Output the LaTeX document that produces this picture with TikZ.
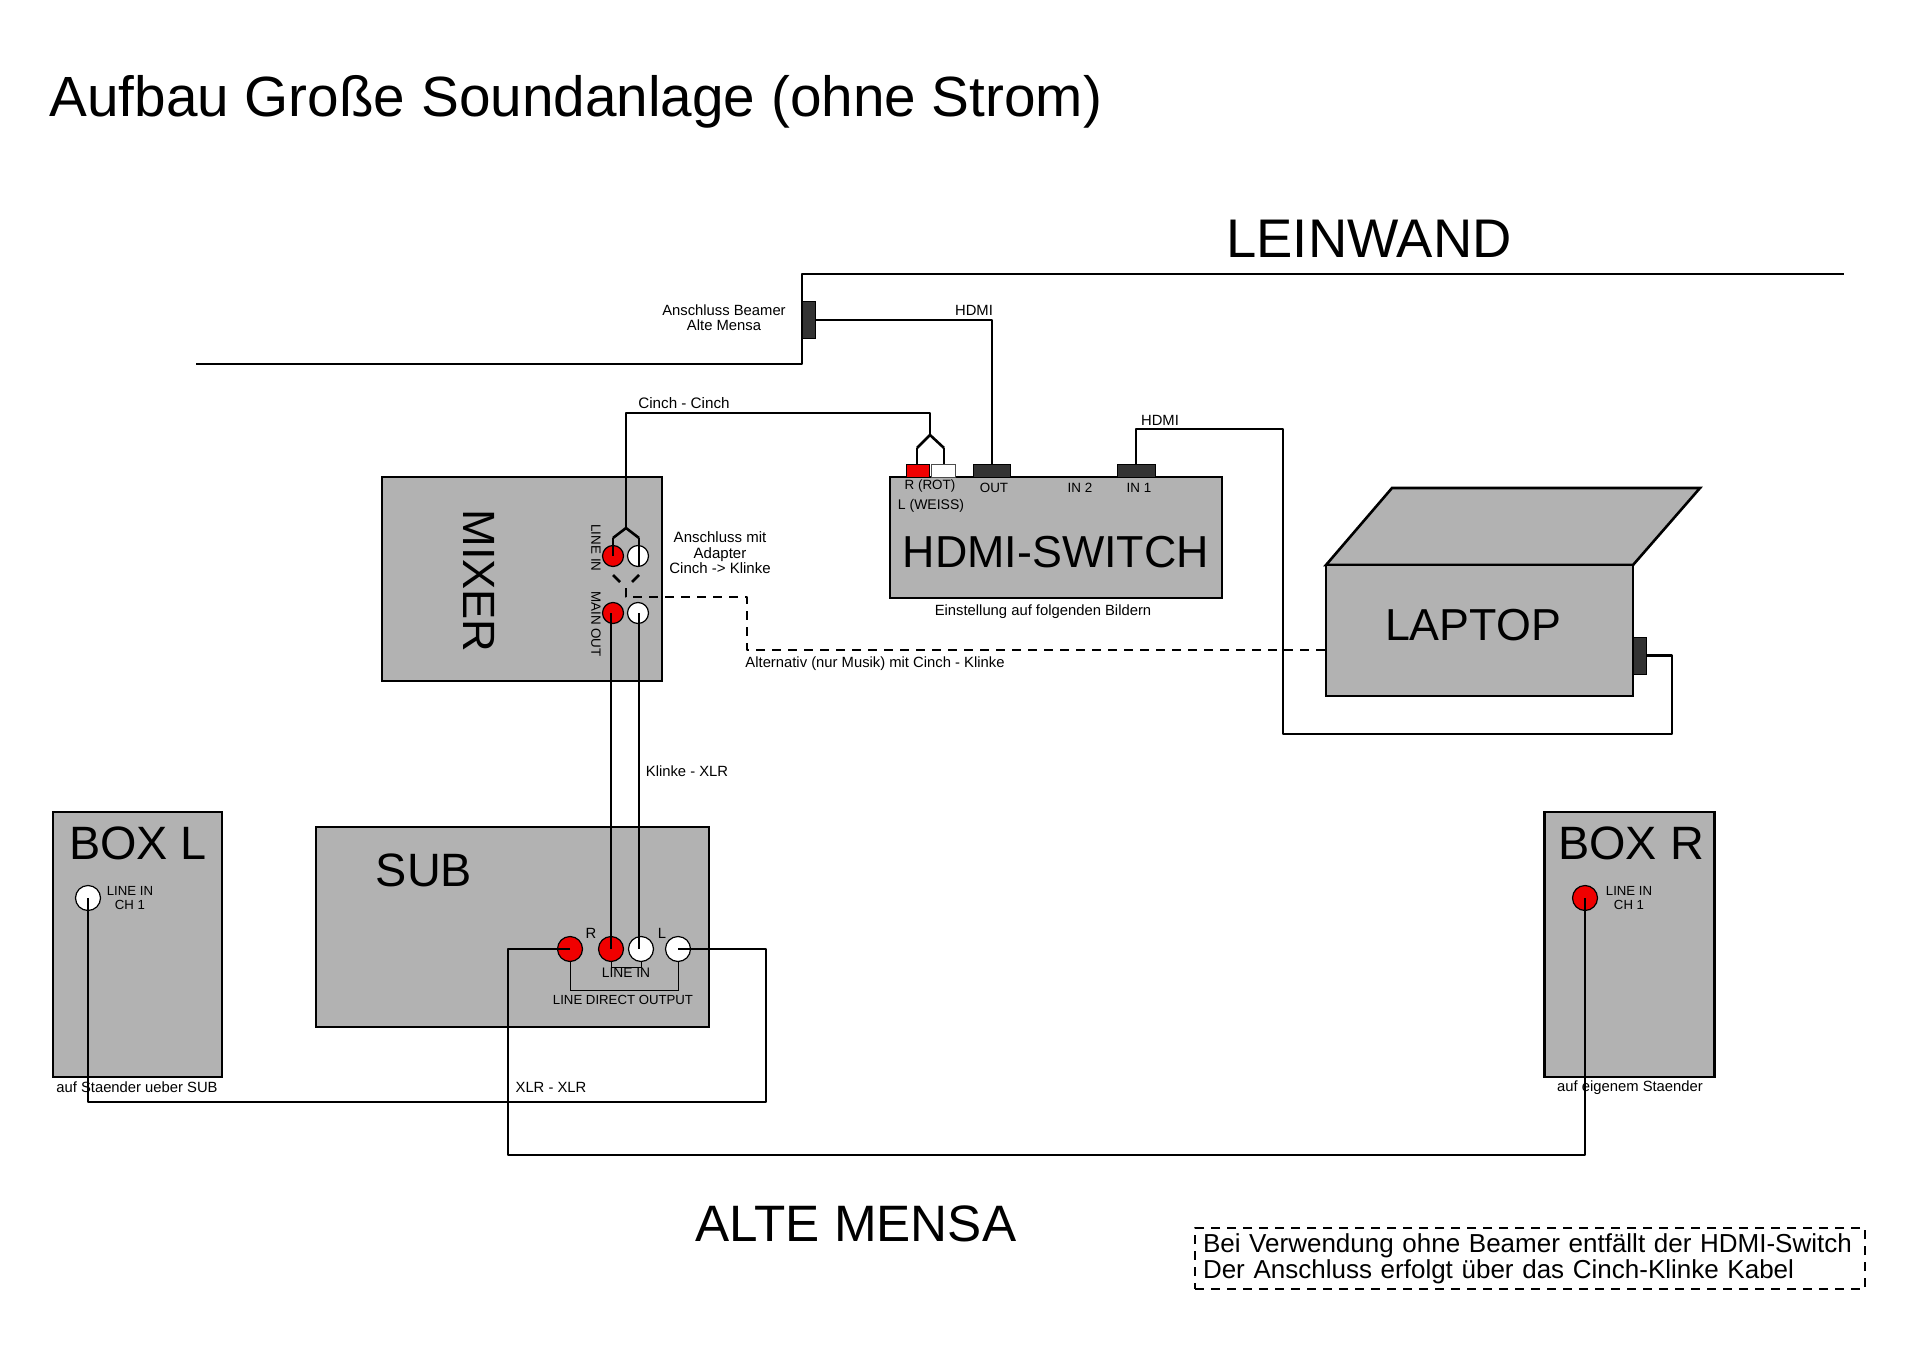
\documentclass[tikz,border=0pt]{standalone}
\usepackage{fontspec}
\setmainfont{Liberation Sans}
\usepackage{amsmath}
\definecolor{unitgrey}{HTML}{B2B2B2}
\definecolor{plugdark}{HTML}{333333}
\definecolor{jackred}{HTML}{F00000}

\begin{document}
\begin{tikzpicture}[x=.5pt,y=-.5pt,
    unit/.style={draw,fill=unitgrey,line width=1.3pt,inner sep=0pt},
    plug/.style={draw,fill=plugdark,line width=.5pt,inner sep=0pt},
    jack/.style={circle,draw,fill=white,line width=.6pt,inner sep=0pt,minimum size=10.5pt},
    redjack/.style={jack,fill=jackred},
    bigjack/.style={minimum size=12.5pt},
    wire/.style={line width=1.3pt,line join=round},
    dashwire/.style={wire,dash pattern=on 4.5pt off 3.5pt},
    tiny/.style={inner sep=0pt,font=\fontsize{7.4}{7.6}\selectfont,align=center},
    mini/.style={tiny,font=\fontsize{6.7}{7}\selectfont},
    big/.style={inner sep=0pt,font=\fontsize{22.4}{24}\selectfont},
    boxname/.style={big,font=\fontsize{23.4}{25}\selectfont}]
  \useasboundingbox (0,0) rectangle (1920,1358);

  \node[inner sep=0pt,anchor=base west,font=\fontsize{28.35}{30}\selectfont] (title) at (49,117) {Aufbau Große Soundanlage (ohne Strom)};
  \node[inner sep=0pt,font=\fontsize{27.2}{29}\selectfont] (leinwand) at (1369,239) {LEINWAND};
  \node[inner sep=0pt,font=\fontsize{25.6}{27}\selectfont] (mensa) at (856,1224) {ALTE MENSA};

  % wall
  \coordinate (wall1) at (196,364);
  \coordinate (wall2) at (802,364);
  \coordinate (wall3) at (802,274);
  \coordinate (wall4) at (1844,274);
  \draw[wire] (wall1) -- (wall2) -- (wall3) -- (wall4);

  % units
  \draw[unit] (1326,565) -- (1392,488) -- (1700,488) -- (1633,565) -- cycle;
  \node[unit,minimum width=140pt,minimum height=102pt]   (mixer)  at (522,579) {};
  \node[unit,minimum width=166pt,minimum height=60.5pt]  (switch) at (1056,537.5) {};
  \node[unit,minimum width=196.5pt,minimum height=100pt] (sub)    at (512.5,927) {};
  \node[unit,minimum width=84.5pt,minimum height=132.5pt] (boxl)  at (137.5,944.5) {};
  \node[unit,minimum width=85pt,minimum height=132.5pt]  (boxr)   at (1629.5,944.5) {};
  \node[unit,minimum width=153.5pt,minimum height=65.5pt] (laptop) at (1479.5,630.5) {};

  % plugs
  \node[plug,minimum width=6.5pt,minimum height=18.5pt]  (beamer) at (808.5,320) {};
  \node[plug,minimum width=18.5pt,minimum height=6.5pt]  (out)    at (992,470.5) {};
  \node[plug,minimum width=19pt,minimum height=6.5pt]    (in1)    at (1136,470.5) {};
  \node[plug,minimum width=6.5pt,minimum height=18.5pt]  (lapout) at (1640,655.5) {};
  \node[draw,fill=jackred,line width=.4pt,inner sep=0pt,minimum width=11.5pt,minimum height=6.5pt] (rcared) at (917.5,470.5) {};
  \node[draw=black!70,fill=white,line width=.4pt,inner sep=0pt,minimum width=12pt,minimum height=6.5pt] (rcawhite) at (943,470.5) {};

  % jacks
  \node[redjack] (inr)   at (613,556) {};
  \node[jack]    (inl)   at (638,556) {};
  \node[redjack] (mainr) at (613,613) {};
  \node[jack]    (mainl) at (638,613) {};
  \node[redjack,bigjack] (dirr)  at (570,949) {};
  \node[redjack,bigjack] (subr)  at (611,949) {};
  \node[jack,bigjack]    (subl)  at (641,949) {};
  \node[jack,bigjack]    (dirl)  at (678,949) {};
  \node[jack,bigjack]    (jackl) at (88,898) {};
  \node[redjack,bigjack] (jackr) at (1585,898) {};

  % brackets on the sub
  \draw[line width=.5pt] (subr.south) -- ++(0,5) -| (subl.south);
  \draw[line width=.5pt] (dirr.south) -- ++(0,28) -| (dirl.south);

  % cables
  \coordinate (cinch1) at (626,413);
  \coordinate (cinch2) at (930,413);
  \coordinate (forka)  at (930,435);
  \coordinate (forkar) at (917,448);
  \coordinate (forkal) at (944,448);
  \coordinate (forkb)  at (626,528);
  \coordinate (forkbr) at (613,538);
  \coordinate (forkbl) at (639,538);
  \draw[wire] (beamer.east) -| (out.north);
  \draw[wire] (forkb) -- (cinch1) -- (cinch2) -- (forka);
  \draw[wire] (forka) edge (forkar) edge (forkal)
              (forkar) edge (forkar |- rcared.north)
              (forkal) edge (forkal |- rcawhite.north)
              (forkb) edge (forkbr) edge (forkbl)
              (forkbr) edge (inr.center)
              (forkbl) edge (forkbl |- inl.south);
  \draw[wire] (subr |- mainr) -- (subr.center);
  \draw[wire] (forkbl |- mainl) -- (forkbl |- subl);

  \coordinate (hdmi1) at (1283,429);
  \coordinate (hdmi2) at (1283,734);
  \coordinate (hdmi3) at (1672,734);
  \coordinate (hdmi4) at (1672,655.5);
  \draw[wire] (in1.north) |- (hdmi1) -- (hdmi2) -- (hdmi3) -- (hdmi4) -- (lapout.east);

  \coordinate (dash1) at (613,575);
  \coordinate (dash2) at (620,582);
  \coordinate (dash3) at (639,575);
  \coordinate (dash4) at (632,582);
  \coordinate (dash5) at (626,588);
  \coordinate (dash6) at (626,597);
  \coordinate (dash7) at (747,597);
  \coordinate (dash8) at (747,650);
  \draw[wire] (dash1) -- (dash2);
  \draw[wire] (dash3) -- (dash4);
  \draw[dashwire] (dash5) -- (dash6) -- (dash7) -- (dash8) -- (laptop.west |- dash8);

  \coordinate (xlr1) at (766,949);
  \coordinate (xlr2) at (766,1102);
  \coordinate (xlr3) at (88,1102);
  \draw[wire] (dirl.center) -- (xlr1) -- (xlr2) -- (xlr3) -- (jackl.center);
  \coordinate (xlr4) at (508,949);
  \coordinate (xlr5) at (508,1155);
  \coordinate (xlr6) at (1585,1155);
  \draw[wire] (dirr.center) -- (xlr4) -- (xlr5) -- (xlr6) -- (jackr.center);

  % big labels
  \node[big,font=\fontsize{22.6}{24}\selectfont] (mixerlabel) at (479,581) [rotate=-90] {MIXER};
  \node[big] (switchlabel) at (1056,552) {HDMI-SWITCH};
  \node[boxname] (sublabel)  at (424,870) {SUB};
  \node[boxname] (boxllabel) at (138,843) {BOX L};
  \node[boxname] (boxrlabel) at (1631,843) {BOX R};
  \node[big] (laptoplabel) at (1473,625) {LAPTOP};

  % small labels
  \node[tiny] (beamerlabel) at (724,318) {Anschluss Beamer\\Alte Mensa};
  \node[tiny] (hdmitop)     at (974,310) {HDMI};
  \node[tiny] (hdmiin)      at (1160,420) {HDMI};
  \node[tiny,font=\fontsize{7.6}{8}\selectfont] (cinchlabel) at (684,403) {Cinch - Cinch};
  \node[mini] (rot)         at (930,486) {R (ROT)};
  \node[tiny,font=\fontsize{7}{7}\selectfont] (weiss) at (931,506) {L (WEISS)};
  \node[mini] (outlabel)    at (994,488) {OUT};
  \node[mini] (in2label)    at (1080,488) {IN 2};
  \node[mini] (in1label)    at (1139,488) {IN 1};
  \node[tiny] (einstellung) at (1043,612) {Einstellung auf folgenden Bildern};
  \node[tiny,font=\fontsize{7.5}{7.8}\selectfont] (adapter) at (720,553) {Anschluss mit\\Adapter\\Cinch -> Klinke};
  \node[tiny] (alternativ)  at (875,664) {Alternativ (nur Musik) mit Cinch - Klinke};
  \node[tiny] (klinke)      at (687,771) {Klinke - XLR};
  \node[tiny] (xlrlabel)    at (551,1087) {XLR - XLR};
  \node[mini,rotate=-90] (linein)  at (596,548) {LINE IN};
  \node[mini,rotate=-90] (mainout) at (596,624) {MAIN OUT};
  \node[tiny] (rlabel)      at (591,933) {R};
  \node[tiny] (llabel)      at (662,933) {L};
  \node[tiny,font=\fontsize{6.9}{7}\selectfont] (subin) at (626,973) {LINE IN};
  \node[tiny,font=\fontsize{6.6}{7}\selectfont] (direct) at (623,1000) {LINE DIRECT OUTPUT};
  \node[tiny,font=\fontsize{6.6}{7}\selectfont] (boxlin) at (130,898) {LINE IN\\CH 1};
  \node[tiny,font=\fontsize{6.6}{7}\selectfont] (boxrin) at (1629,898) {LINE IN\\CH 1};
  \node[tiny] (staender)    at (137,1087) {auf Staender ueber SUB};
  \node[tiny] (eigen)       at (1630,1088) {auf eigenem Staender};

  % note
  \node[dashwire,draw,inner sep=0pt,text width=327pt,minimum width=335pt,minimum height=30.5pt,
        align=left,font=\fontsize{13}{13}\selectfont] (note) at (1530,1258.5)
       {Bei Verwendung ohne Beamer entfällt der HDMI-Switch\\Der Anschluss erfolgt über das Cinch-Klinke Kabel};
\end{tikzpicture}
\end{document}
